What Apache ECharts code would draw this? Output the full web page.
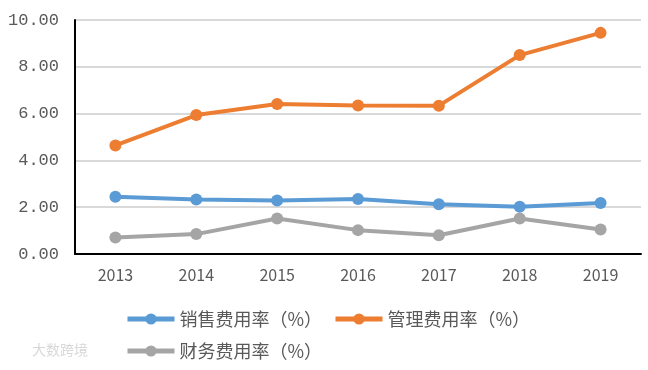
<!DOCTYPE html>
<html><head><meta charset="utf-8">
<script src="https://cdn.jsdelivr.net/npm/echarts@6/dist/echarts.min.js"></script>
<style>html,body{margin:0;padding:0;background:#fff}#c{width:648px;height:370px}</style>
</head><body><div id="c"></div>
<script>
const years = ['2013','2014','2015','2016','2017','2018','2019'];
const seriesNames = ['销售费用率（%）','管理费用率（%）','财务费用率（%）'];
const sales = [2.45, 2.33, 2.29, 2.35, 2.13, 2.02, 2.18];
const admin = [4.64, 5.94, 6.41, 6.35, 6.34, 8.50, 9.45];
const finance = [0.71, 0.85, 1.52, 1.02, 0.80, 1.52, 1.05];
const colors = ['#5B9BD5','#ED7D31','#A5A5A5'];
const font = '"Noto Sans CJK SC", "Noto Sans", sans-serif';
const chart = echarts.init(document.getElementById('c'));
const mk = (name, data, color) => ({
  name, type:'line', data, color,
  symbol:'circle', symbolSize:12,
  lineStyle:{width:4,color}, itemStyle:{color}
});
const legendBase = {
  itemWidth:47, itemHeight:14, itemGap:10, padding:0,
  lineStyle:{width:5},
  textStyle:{fontSize:18,color:'#595959',fontFamily:font}
};
chart.setOption({
  animation:false,
  grid:{left:75,right:7,top:20,bottom:116},
  xAxis:{type:'category',data:years,boundaryGap:true,
    axisLine:{lineStyle:{color:'#000',width:2}},axisTick:{show:false},
    axisLabel:{fontSize:16,color:'#595959',fontFamily:font,margin:13}},
  yAxis:{type:'value',min:0,max:10,interval:2,
    axisLine:{show:true,lineStyle:{color:'#000',width:2}},axisTick:{show:false},
    splitLine:{lineStyle:{color:'#D9D9D9',width:2}},
    axisLabel:{fontSize:17,color:'#595959',fontFamily:'"Liberation Mono", monospace',margin:16,formatter:v=>v.toFixed(2)}},
  legend:[
    Object.assign({},legendBase,{left:125,top:310,data:[{name:seriesNames[0]}]}),
    Object.assign({},legendBase,{left:333,top:310,data:[{name:seriesNames[1]}]}),
    Object.assign({},legendBase,{left:125,top:342,data:[{name:seriesNames[2]}]})
  ],
  graphic:[{type:'text',left:32,top:343,style:{text:'大数跨境',fontSize:14,fill:'#d8d8d8',fontFamily:font}}],
  series:[mk(seriesNames[0],sales,colors[0]),mk(seriesNames[1],admin,colors[1]),mk(seriesNames[2],finance,colors[2])]
});
</script></body></html>
